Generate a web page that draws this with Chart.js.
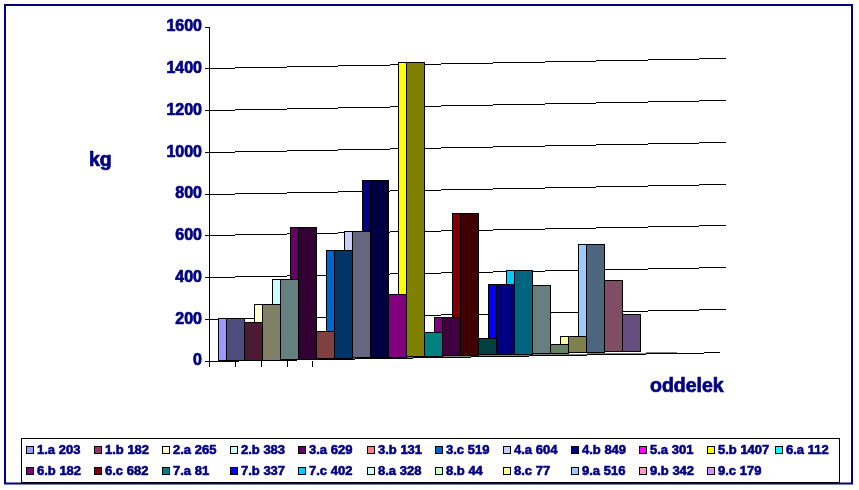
<!DOCTYPE html>
<html>
<head>
<meta charset="utf-8">
<title>oddelek kg</title>
<script src="https://cdn.jsdelivr.net/npm/chart.js@4/dist/chart.umd.min.js"></script>
<style>
	html, body { margin: 0; padding: 0; background: #fff; }
	canvas { display: block; }
</style>
</head>
<body>
<canvas id="chart-oddelek" width="859" height="490"></canvas>
<script>
var ODDELKI = ["1.a", "1.b", "2.a", "2.b", "3.a", "3.b", "3.c", "4.a", "4.b", "5.a", "5.b", "6.a",
	"6.b", "6.c", "7.a", "7.b", "7.c", "8.a", "8.b", "8.c", "9.a", "9.b", "9.c"];
var KG = [203, 182, 265, 383, 629, 131, 519, 604, 849, 301, 1407, 112,
	182, 682, 81, 337, 402, 328, 44, 77, 516, 342, 179];
var COLORS = ["#9999ff", "#993366", "#ffffcc", "#ccffff", "#660066", "#ff8080", "#0066cc", "#ccccff", "#000080", "#ff00ff", "#ffff00", "#00ffff",
	"#800080", "#800000", "#008080", "#0000ff", "#00ccff", "#ccffff", "#ccffcc", "#ffff99", "#99ccff", "#ff99cc", "#cc99ff"];
var Y_TICK_STEP = 200;
var Y_MAX = 1600;

var NAVY = "#000080";
var GRID_RISE = 0.0194; // the back wall lines climb to the right
var BAR_RISE = 0.024;   // the bars climb a bit faster
var SIDE_WIDTH = 8;

// Front faces are the series colour at half brightness
function halfColor(hex) {
	var out = "#";
	for (var i = 1; i < 7; i += 2) {
		var c = Math.round(parseInt(hex.substr(i, 2), 16) / 2).toString(16);
		out += c.length < 2 ? "0" + c : c;
	}
	return out;
}

// 1px staircase, no antialiasing, like the old Excel picture
function stairLine(ctx, color, x1, x2, startY, rise) {
	ctx.fillStyle = color;
	for (var x = x1; x < x2; ++x) {
		ctx.fillRect(x, Math.round(startY - rise * (x - x1)), 1, 1);
	}
}

function boldText(ctx, text, x, y, size, fatness) {
	ctx.font = "bold " + size + "px 'Liberation Sans'";
	ctx.fillStyle = NAVY;
	ctx.strokeStyle = NAVY;
	ctx.lineWidth = fatness;
	ctx.textAlign = "left";
	ctx.textBaseline = "alphabetic";
	ctx.fillText(text, x, y);
	ctx.strokeText(text, x, y);
}

var wallPlugin = {
	id: "wall",
	beforeDatasetsDraw: function(chart) {
		var ctx = chart.ctx;
		var yScale = chart.scales.y;
		var x0 = Math.floor(chart.chartArea.left);

		for (var v = Y_TICK_STEP; v < Y_MAX; v += Y_TICK_STEP) {
			stairLine(ctx, "#000", x0, 726, Math.floor(yScale.getPixelForValue(v)), GRID_RISE);
		}

		// floor edge with its grey shadow
		var y0 = Math.floor(yScale.getPixelForValue(0));
		stairLine(ctx, "#000", x0, 720, y0, 0.0172);
		ctx.fillStyle = "#808080";
		for (var x = 258; x < 677; ++x) {
			ctx.fillRect(x, Math.round(y0 - 0.0172 * (x - x0)) - 1, 1, 1);
		}

		// the few category ticks under the axis
		ctx.fillStyle = "#000";
		var ticks = [0, 26, 52, 78, 103];
		for (var i = 0; i < ticks.length; ++i) {
			ctx.fillRect(x0 + ticks[i], y0, 1, 6);
		}
	},
	beforeDatasetDraw: function(chart, args) {
		// Chart.js walks the datasets from last to first, which is the overlap we want
		var ctx = chart.ctx;
		var bar = args.meta.data[0];
		var dataset = chart.data.datasets[args.index];
		var lift = BAR_RISE * (bar.x - chart.chartArea.left - 26);

		var left = Math.round(bar.x - bar.width / 2);
		var right = Math.round(bar.x + bar.width / 2);
		var top = Math.floor(bar.y - lift);
		var bottom = Math.round(bar.base - lift);

		ctx.save();
		ctx.lineWidth = 1;
		ctx.strokeStyle = "#000";

		ctx.fillStyle = COLORS[args.index];
		ctx.fillRect(left - SIDE_WIDTH, top, SIDE_WIDTH, bottom - top);
		ctx.strokeRect(left - SIDE_WIDTH + 0.5, top + 0.5, SIDE_WIDTH, bottom - top);

		ctx.fillStyle = dataset.backgroundColor;
		ctx.fillRect(left, top, right - left, bottom - top);
		ctx.strokeRect(left + 0.5, top + 0.5, right - left, bottom - top);
		ctx.restore();

		return false;
	},
	afterDraw: function(chart) {
		var ctx = chart.ctx;
		ctx.save();

		// outer frame
		ctx.strokeStyle = NAVY;
		ctx.lineWidth = 2;
		ctx.strokeRect(5, 5, 847, 478.5);

		// axis titles
		boldText(ctx, "kg", 89, 166, 19.5, 0.7);
		boldText(ctx, "oddelek", 650, 392, 19.5, 0.7);

		// legend, fixed columns so it can't wrap differently
		ctx.fillStyle = "#fff";
		ctx.strokeStyle = "#000";
		ctx.lineWidth = 1;
		ctx.fillRect(21.5, 438.5, 818, 44);
		ctx.strokeRect(21.5, 438.5, 818, 44);

		for (var i = 0; i < ODDELKI.length; ++i) {
			var col = i % 12;
			var row = Math.floor(i / 12);
			var x = Math.round(26 + col * 68.1);
			var y = 446 + row * 21;

			ctx.fillStyle = COLORS[i];
			ctx.strokeStyle = "#000";
			ctx.lineWidth = 1;
			ctx.fillRect(x, y, 7, 7);
			ctx.strokeRect(x + 0.5, y + 0.5, 7, 7);

			boldText(ctx, ODDELKI[i] + " " + KG[i], x + 11, y + 8, 13, 0.6);
		}
		ctx.restore();
	}
};

var datasets = [];
for (var i = 0; i < ODDELKI.length; ++i) {
	datasets.push({
		label: ODDELKI[i],
		data: [KG[i]],
		backgroundColor: halfColor(COLORS[i]),
		categoryPercentage: 0.9231,
		barPercentage: 1
	});
}

new Chart(document.getElementById("chart-oddelek").getContext("2d"), {
	type: "bar",
	data: {
		labels: [""],
		datasets: datasets
	},
	plugins: [wallPlugin],
	options: {
		responsive: false,
		animation: false,
		layout: {
			padding: { left: 149, top: 27, right: 201.5, bottom: 129 }
		},
		plugins: {
			legend: { display: false },
			tooltip: { enabled: false }
		},
		scales: {
			x: {
				grid: { display: false },
				border: { display: false },
				ticks: { display: false },
				afterFit: function(scale) {
					scale.height = 0;
				}
			},
			y: {
				min: 0,
				max: Y_MAX,
				afterFit: function(scale) {
					scale.width = 60;
				},
				grid: { drawOnChartArea: false, tickLength: 4, color: "#000" },
				border: { color: "#000" },
				ticks: {
					stepSize: Y_TICK_STEP,
					padding: 3,
					color: NAVY,
					textStrokeColor: NAVY,
					textStrokeWidth: 0.7,
					font: { family: "'Liberation Sans'", size: 16, weight: "bold" },
					callback: function(value) {
						return String(value);
					}
				}
			}
		}
	}
});
</script>
</body>
</html>
